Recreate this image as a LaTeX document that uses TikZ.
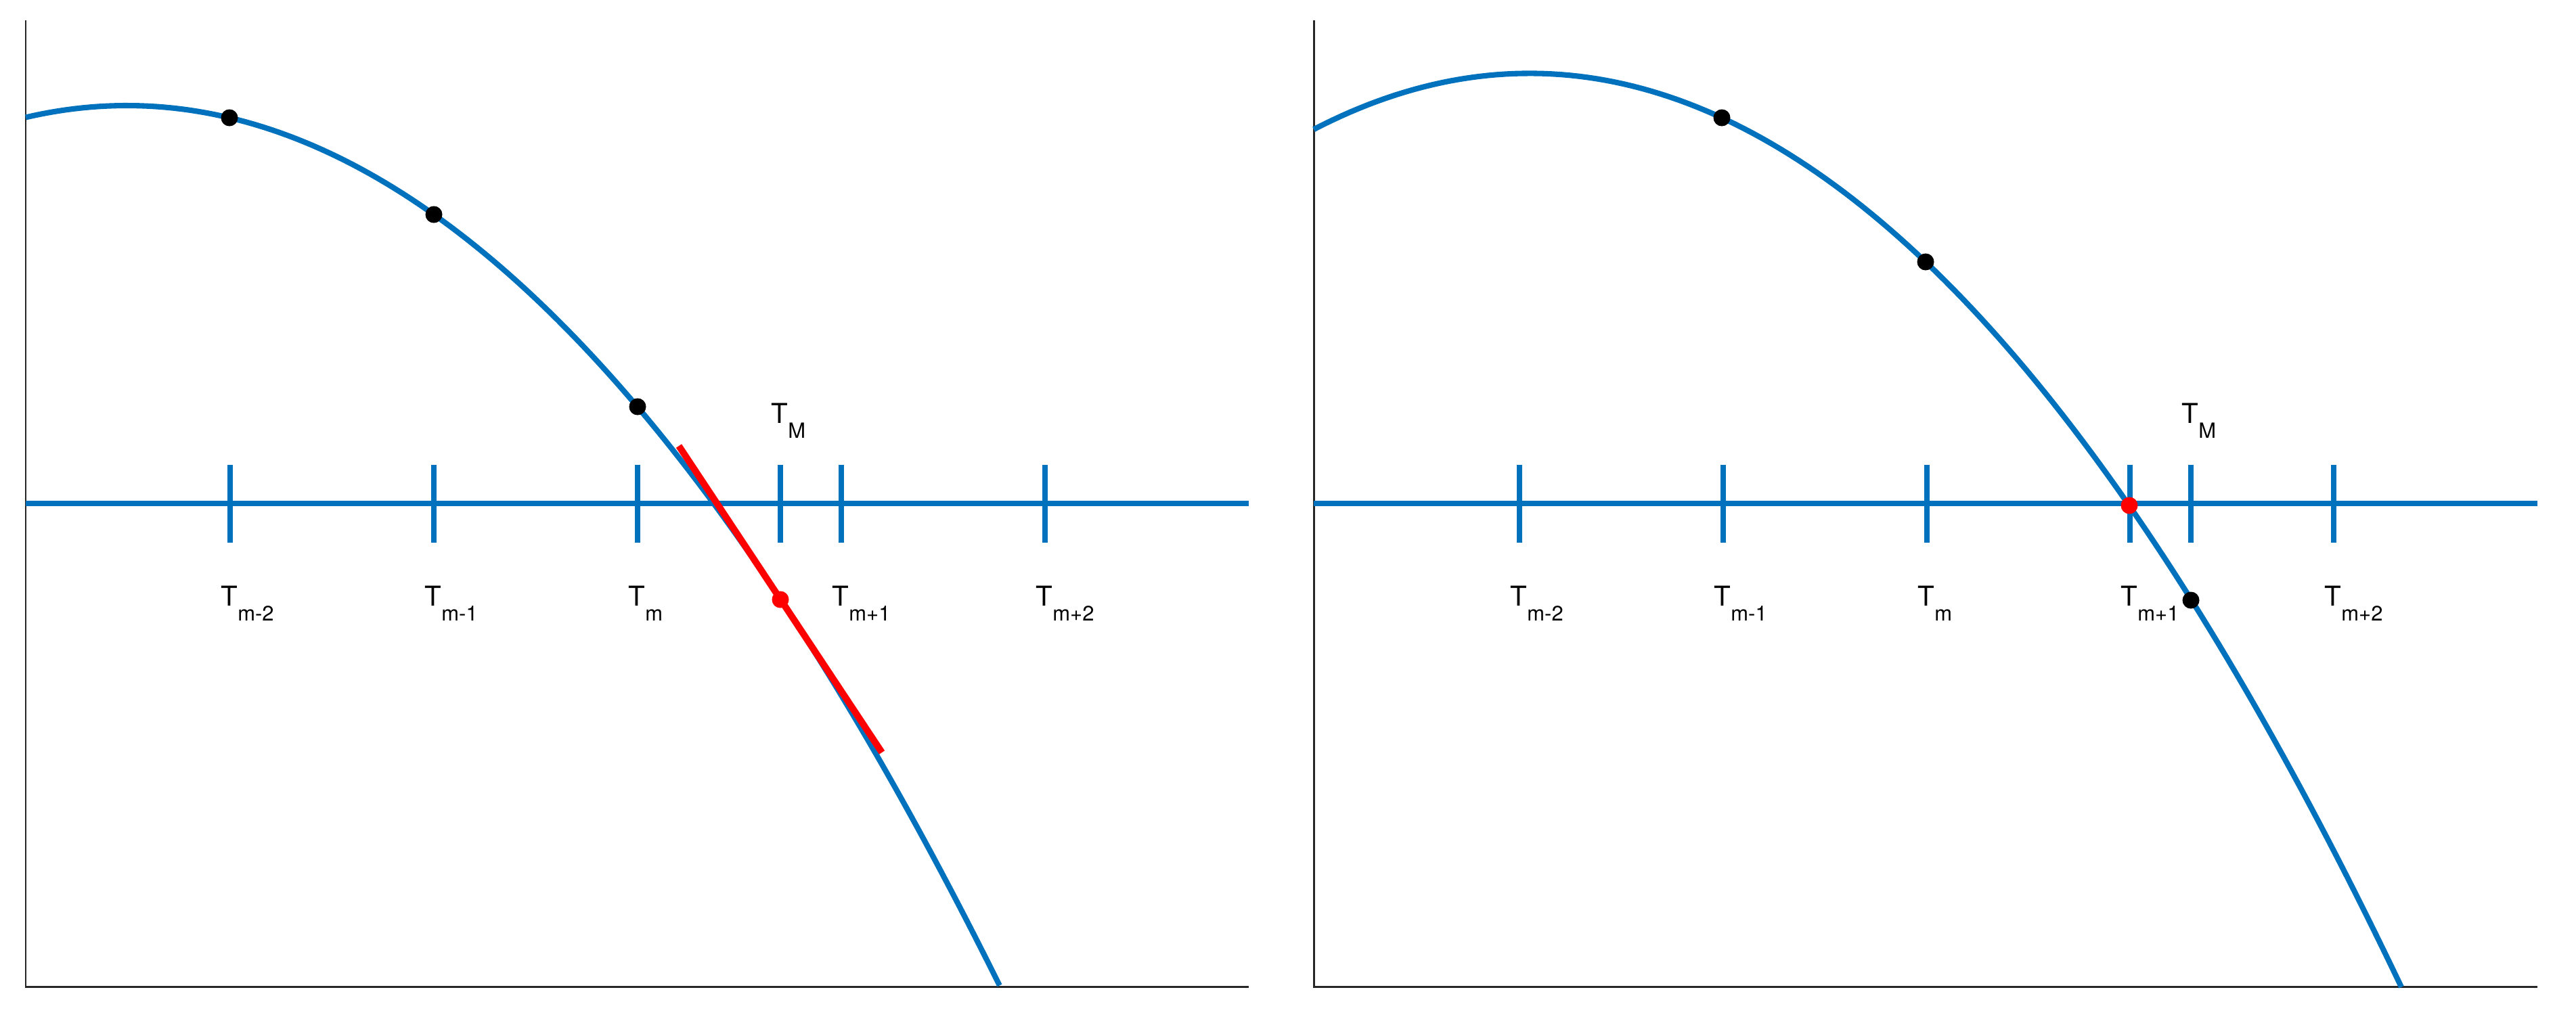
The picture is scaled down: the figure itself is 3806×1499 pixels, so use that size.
\documentclass[tikz,border=0pt]{standalone}
\usepackage{fontspec}
\setmainfont{TeX Gyre Heros}
\definecolor{plotblue}{RGB}{0,114,189}
\definecolor{axisgray}{RGB}{38,38,38}
\newcommand{\Tlab}[1]{T\raisebox{-6.3pt}{\fontsize{8.8}{8.8}\selectfont #1}}

\begin{document}
\begin{tikzpicture}[x=0.01cm, y=-0.01cm,
                    axisline/.style={axisgray, line width=0.85pt},
                    curve/.style={plotblue, line width=2.3pt},
                    gridline/.style={plotblue, line width=2.5pt},
                    tangent/.style={red, line width=2.8pt},
                    dot/.style={circle, fill=#1, inner sep=0pt, minimum size=0.25cm},
                    lab/.style={anchor=base west, inner sep=0pt, font=\fontsize{11.5}{11.5}\selectfont}]
  \useasboundingbox (0,0) rectangle (3806,1499);
  % left panel
  \draw[axisline] (38,30) -- (38,1458) -- (1845,1458);
  \draw[gridline] (38,744) -- (1845,744);
  \foreach \x in {340,641,942,1153,1243,1544}
    \draw[gridline] (\x,687) -- (\x,802);
  \draw[curve, domain=0:14.39, samples=120] plot ({38+100*\x}, {156+7.82*(\x-1.493)^2});
  \draw[tangent] (1003,659) -- (1303,1112);
  \node[dot=black] (a1) at (339,174) {};
  \node[dot=black] (a2) at (641,317) {};
  \node[dot=black] (a3) at (942,601) {};
  \node[dot=red] (a4) at (1153,886) {};
  \node[lab] (la1) at (326,895) {\Tlab{m-2}};
  \node[lab] (la2) at (627,895) {\Tlab{m-1}};
  \node[lab] (la3) at (928,895) {\Tlab{m}};
  \node[lab] (la4) at (1229,895) {\Tlab{m+1}};
  \node[lab] (la5) at (1530,895) {\Tlab{m+2}};
  \node[lab] (laM) at (1139,625) {\Tlab{M}};
  % right panel
  \draw[axisline] (1941,30) -- (1941,1458) -- (3749,1458);
  \draw[gridline] (1941,744) -- (3749,744);
  \foreach \x in {2245,2546,2847,3147,3237,3448}
    \draw[gridline] (\x,687) -- (\x,802);
  \draw[curve, domain=0:16.07, samples=120] plot ({1941+100*\x}, {108.4+8.14*(\x-3.19)^2});
  \node[dot=black] (b1) at (2544,174) {};
  \node[dot=black] (b2) at (2845,387) {};
  \node[dot=red] (b3) at (3146,747) {};
  \node[dot=black] (b4) at (3237,887) {};
  \node[lab] (lb1) at (2231,895) {\Tlab{m-2}};
  \node[lab] (lb2) at (2532,895) {\Tlab{m-1}};
  \node[lab] (lb3) at (2833,895) {\Tlab{m}};
  \node[lab] (lb4) at (3133,895) {\Tlab{m+1}};
  \node[lab] (lb5) at (3434,895) {\Tlab{m+2}};
  \node[lab] (lbM) at (3223,625) {\Tlab{M}};
\end{tikzpicture}
\end{document}
